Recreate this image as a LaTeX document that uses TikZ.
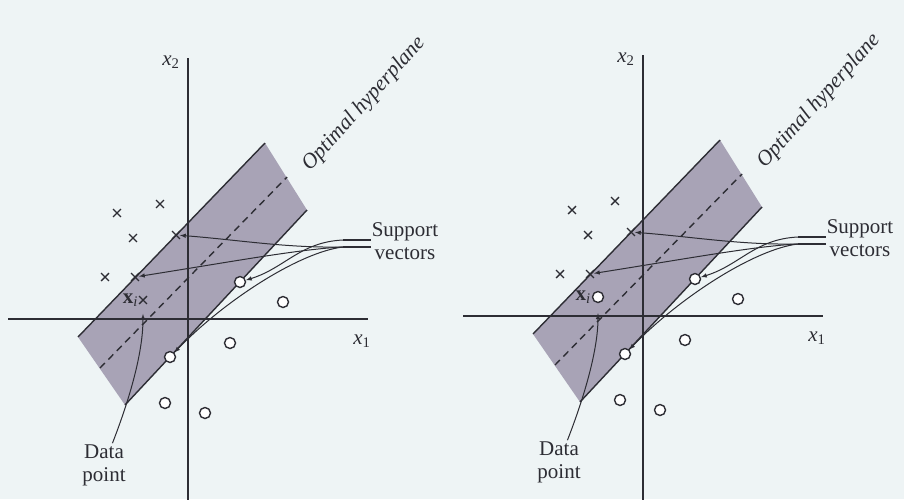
\documentclass[tikz,border=0pt]{standalone}
\usepackage{fontspec}
\setmainfont{Liberation Serif}
\usetikzlibrary{shapes,arrows,positioning,calc}
\definecolor{paper}{RGB}{238,244,245}
\definecolor{band}{RGB}{168,163,182}
\definecolor{ink}{RGB}{45,45,52}

\begin{document}
\begin{tikzpicture}[x=1pt, y=-1pt,
  line/.style={draw=ink, line width=1.4pt},
  arrow/.style={-latex, draw=ink, line width=1pt},
  cross/.style={cross out, draw=ink, line width=1.4pt, minimum size=6.5pt, inner sep=0pt},
  ring/.style={circle, draw=ink, fill=white, line width=1.4pt, minimum size=11pt, inner sep=0pt},
  lbl/.style={font=\fontsize{21}{23}\selectfont, text=ink, align=center, inner sep=1pt}
]
  \path[use as bounding box, fill=paper] (0,0) rectangle (904,499);

  \foreach \p/\sx/\sy/\mk in {L/0/0/cross, R/455/-3/ring} {
  \begin{scope}[shift={(\sx,\sy)}]
    \coordinate (\p-b1) at (78,337);
    \coordinate (\p-b2) at (265,143);
    \coordinate (\p-b3) at (307,210);
    \coordinate (\p-b4) at (125,405);
    \coordinate (\p-d1) at (100,368);
    \coordinate (\p-d2) at (287,177);
    \coordinate (\p-xa) at (8,319);
    \coordinate (\p-xb) at (368,319);
    \coordinate (\p-ya) at (188,58);
    \coordinate (\p-yb) at (188,505);
    \coordinate (\p-u) at (343,240);
    \coordinate (\p-ue) at (371,240);
    \coordinate (\p-l) at (343,247);
    \coordinate (\p-le) at (371,247);

    \fill[band] (\p-b1) -- (\p-b2) -- (\p-b3) -- (\p-b4) -- cycle;
    \draw[line] (\p-b1) -- (\p-b2);
    \draw[line] (\p-b4) -- (\p-b3);
    \draw[line, dash pattern=on 7pt off 5pt] (\p-d1) -- (\p-d2);
    \draw[line] (\p-xa) -- (\p-xb);
    \draw[line] (\p-ya) -- (\p-yb);

    \node[lbl] (\p-x2) at (171,62) {\textit{x}\textsubscript{2}};
    \node[lbl] (\p-x1) at (362,341) {\textit{x}\textsubscript{1}};
    \node[lbl, font=\itshape\fontsize{21.5}{23}\selectfont, rotate=48] (\p-oh) at (364,104) {Optimal hyperplane};
    \node[lbl] (\p-sv) at (405,241) {Support\\vectors};
    \node[lbl] (\p-dp) at (104,465) {Data\\point};

    \node[cross] (\p-c1) at (117,213) {};
    \node[cross] (\p-c2) at (160,204) {};
    \node[cross] (\p-c3) at (133,238) {};
    \node[cross] (\p-c4) at (105,277) {};
    \node[cross] (\p-sa) at (176,235) {};
    \node[cross] (\p-sb) at (135,277) {};
    \node[\mk] (\p-xi) at (143,300) {};
    \node[lbl, anchor=east] (\p-xl) at (\p-xi.west) {\textbf{x}\textsubscript{\textit{i}}};
    \node[ring] (\p-o1) at (283,302) {};
    \node[ring] (\p-o2) at (230,343) {};
    \node[ring] (\p-o3) at (165,403) {};
    \node[ring] (\p-o4) at (205,413) {};
    \node[ring] (\p-sc) at (240,282) {};
    \node[ring] (\p-sd) at (170,357) {};

    \draw[line, line width=1.1pt] (\p-u) -- (\p-ue);
    \draw[line, line width=1.1pt] (\p-l) -- (\p-le);
    \draw[arrow] (\p-l) .. controls (285,248) and (240,240) .. (\p-sa);
    \draw[arrow] (\p-l) .. controls (300,249) and (230,262) .. (\p-sb);
    \draw[arrow] (\p-u) .. controls (300,242) and (285,268) .. (\p-sc);
    \draw[arrow] (\p-l) .. controls (300,252) and (225,300) .. (\p-sd);
    \draw[arrow, shorten >=10pt] (\p-dp) .. controls (135,385) and (143,345) .. (\p-xi);
  \end{scope}
  }
\end{tikzpicture}
\end{document}
